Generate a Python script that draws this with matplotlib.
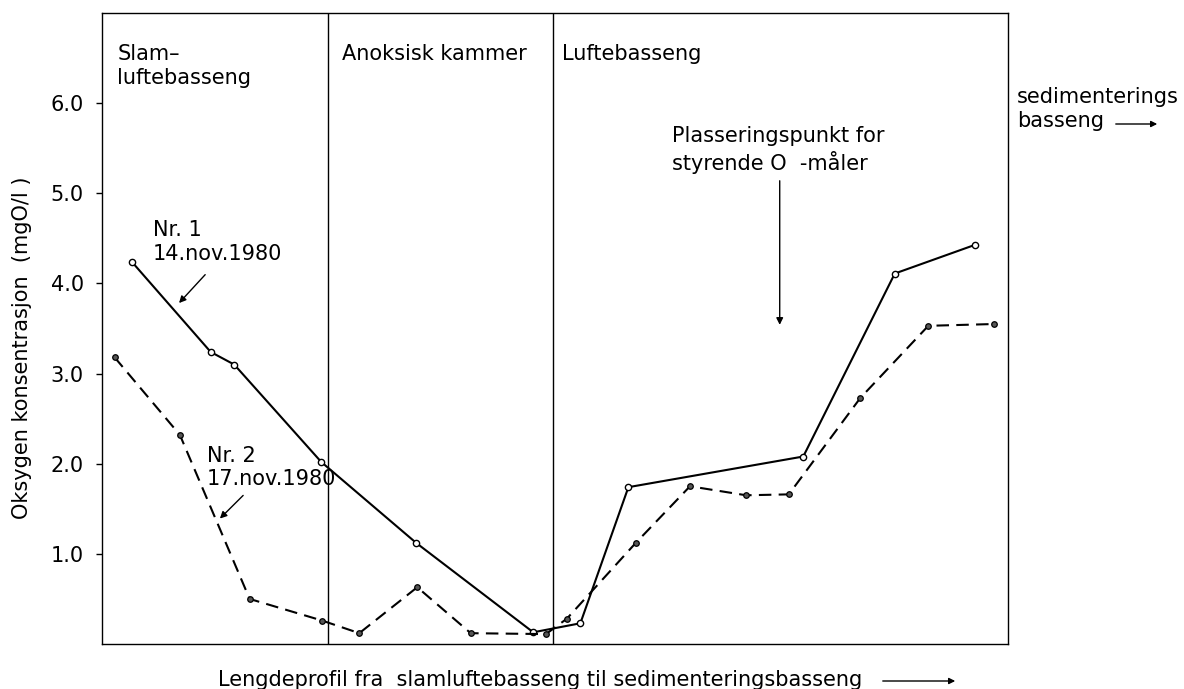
import matplotlib
matplotlib.use("Agg")
import matplotlib.pyplot as plt

plt.rcParams['font.family'] = ['DejaVu Sans']

# Relative position along the profile (0-100) and oxygen concentration (mgO/l)
x_nr1 = [3.3, 12.0, 14.6, 24.2, 34.7, 47.6, 52.8, 58.1, 77.4, 87.5, 96.4]
y_nr1 = [4.24, 3.24, 3.10, 2.02, 1.12, 0.13, 0.23, 1.74, 2.08, 4.11, 4.43]

x_nr2 = [1.4, 8.6, 16.3, 24.3, 28.4, 34.8, 40.7, 49.0, 51.3, 58.9, 64.9, 71.1, 75.8, 83.7, 91.2, 98.5]
y_nr2 = [3.18, 2.32, 0.50, 0.26, 0.12, 0.63, 0.12, 0.11, 0.28, 1.12, 1.75, 1.65, 1.66, 2.73, 3.53, 3.55]

section_borders = [24.9, 49.8]
section_names = ["Slam–\nluftebasseng", "Anoksisk kammer", "Luftebasseng"]
section_label_x = [1.7, 26.5, 50.8]

y_ticks = [1.0, 2.0, 3.0, 4.0, 5.0, 6.0]
y_ticklabels = ["1.0", "2.0", "3.0", "4.0", "5.0", "6.0"]

FS = 15

fig = plt.figure(figsize=(11.84, 6.89), dpi=100)
ax = fig.add_axes([0.0861, 0.0653, 0.7653, 0.9158])
ax.set_xlim(0, 100)
ax.set_ylim(0, 7)

ax.plot(x_nr1, y_nr1, color='black', lw=1.5, marker='o', ms=4.5,
        mfc='white', mec='black', mew=1.0, zorder=3)
ax.plot(x_nr2, y_nr2, color='black', lw=1.5, ls=(0, (6, 3.5)), marker='o', ms=4,
        mfc='#555555', mec='black', mew=0.9, zorder=3)

for xb in section_borders:
    ax.axvline(xb, color='black', lw=1.0)

for name, xl in zip(section_names, section_label_x):
    ax.text(xl, 6.66, name, ha='left', va='top', fontsize=FS, linespacing=1.3)

ax.set_xticks([])
ax.set_yticks(y_ticks)
ax.set_yticklabels(y_ticklabels, fontsize=FS)
ax.tick_params(axis='y', direction='out', length=4, width=1, pad=9)
for s in ax.spines.values():
    s.set_linewidth(1.0)

ax.set_ylabel("Oksygen konsentrasjon  (mgO/l )", fontsize=FS)
ax.yaxis.set_label_coords(-0.077, 0.47)

arrowprops = dict(arrowstyle='-|>', color='black', lw=1.0, mutation_scale=10)

ax.text(5.6, 4.46, "Nr. 1\n14.nov.1980", ha='left', va='center', fontsize=FS, linespacing=1.2)
ax.annotate("", xy=(8.3, 3.76), xytext=(11.6, 4.12), arrowprops=arrowprops)

ax.text(11.6, 1.96, "Nr. 2\n17.nov.1980", ha='left', va='center', fontsize=FS, linespacing=1.2)
ax.annotate("", xy=(12.8, 1.37), xytext=(15.8, 1.67), arrowprops=arrowprops)

ax.text(62.9, 5.48, "Plasseringspunkt for\nstyrende O  -måler", ha='left', va='center',
        fontsize=FS, linespacing=1.25)
ax.annotate("", xy=(74.8, 3.51), xytext=(74.8, 5.17), arrowprops=arrowprops)

fig.text(1017 / 1184, 1 - 109 / 689, "sedimenterings\nbasseng", ha='left', va='center',
         fontsize=FS, linespacing=1.3)
fig.add_artist(matplotlib.patches.FancyArrowPatch(
    (1113 / 1184, 1 - 124 / 689), (1160 / 1184, 1 - 124 / 689),
    transform=fig.transFigure, arrowstyle='-|>', color='black', lw=1.0, mutation_scale=9))

fig.text(218 / 1184, 1 - 680 / 689, "Lengdeprofil fra  slamluftebasseng til sedimenteringsbasseng",
         ha='left', va='center', fontsize=FS)
fig.add_artist(matplotlib.patches.FancyArrowPatch(
    (880 / 1184, 1 - 681 / 689), (958 / 1184, 1 - 681 / 689),
    transform=fig.transFigure, arrowstyle='-|>', color='black', lw=1.0, mutation_scale=9))

fig.savefig("out.png", dpi=100)
